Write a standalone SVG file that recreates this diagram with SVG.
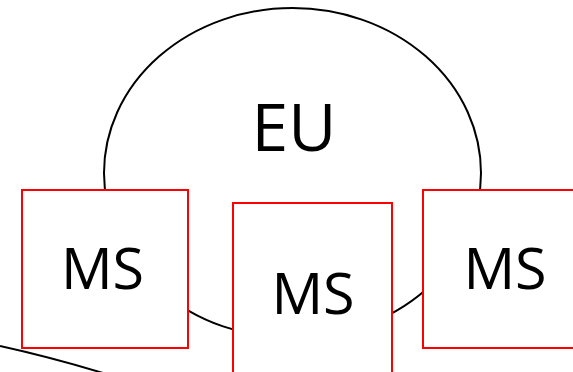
<svg xmlns="http://www.w3.org/2000/svg" width="573" height="372" viewBox="0 0 573 372">
<style>
.box{fill:#fff;stroke:#ff0000;stroke-width:2}
.lbl{font-family:"Open Sans","Liberation Sans",sans-serif;fill:#000;text-anchor:middle}
.ln{fill:none;stroke:#000;stroke-width:2}
</style>
<rect width="573" height="372" fill="#fff"/>
<g id="connectors">
<path class="ln" d="M0,346 Q50,357 103,373"/>
</g>
<g id="eu">
<ellipse cx="292.5" cy="173" rx="188.5" ry="165" fill="#fff" stroke="#000" stroke-width="2"/>
<text class="lbl" x="294" y="151" font-size="66">EU</text>
</g>
<g id="ms-left">
<rect class="box" x="22" y="190" width="166" height="158"/>
<text class="lbl" x="102.5" y="289" font-size="57.5">MS</text>
</g>
<g id="ms-middle">
<rect class="box" x="233" y="203" width="159" height="175"/>
<text class="lbl" x="313" y="313.5" font-size="57.5">MS</text>
</g>
<g id="ms-right">
<rect class="box" x="423" y="190" width="156" height="158"/>
<text class="lbl" x="505" y="289" font-size="57.5">MS</text>
</g>
</svg>
